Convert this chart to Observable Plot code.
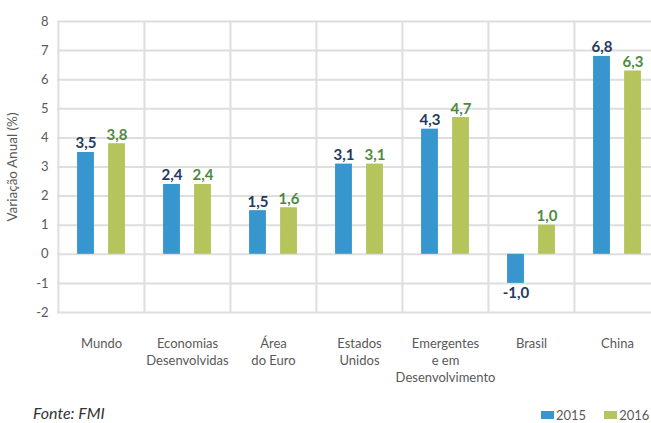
<!DOCTYPE html>
<html>
<head>
<meta charset="utf-8">
<script src="https://cdn.jsdelivr.net/npm/d3@7"></script>
<script src="https://cdn.jsdelivr.net/npm/@observablehq/plot@0.6"></script>
<style>
  html, body { margin: 0; padding: 0; background: #fff; }
  #wrap { position: relative; width: 651px; height: 423px; overflow: hidden; font-family: Lato, "Open Sans", sans-serif; }
  #footer { position: absolute; left: 33px; top: 403px; font-size: 16px; font-style: italic; color: #333; }
  #legend { position: absolute; left: 541px; top: 407px; font-size: 13px; color: #595959; display: flex; align-items: center; white-space: nowrap; }
  .sw { display: inline-block; width: 13px; height: 8px; margin-right: 2px; }
  .item { display: flex; align-items: center; margin-right: 18px; }
</style>
</head>
<body>
<div id="wrap">
  <div id="chart"></div>
  <div id="footer">Fonte: FMI</div>
  <div id="legend"></div>
</div>
<script>
const categories = ["Mundo", "Economias\nDesenvolvidas", "Área\ndo Euro", "Estados\nUnidos", "Emergentes\ne em\nDesenvolvimento", "Brasil", "China"];
const series = ["2015", "2016"];
const values2015 = [3.5, 2.4, 1.5, 3.1, 4.3, -1.0, 6.8];
const values2016 = [3.8, 2.4, 1.6, 3.1, 4.7, 1.0, 6.3];
const yTicks = [-2, -1, 0, 1, 2, 3, 4, 5, 6, 7, 8];
const colors = {"2015": "#3796cd", "2016": "#b5c55b"};
const labelColors = {"2015": "#243a5e", "2016": "#4e8a3e"};

const rows2015 = categories.map((c, i) => ({cat: c, year: "2015", v: values2015[i]}));
const rows2016 = categories.map((c, i) => ({cat: c, year: "2016", v: values2016[i]}));
const fmt = v => v.toFixed(1).replace(".", ",");

const xRange = [57, 660];
const band = (xRange[1] - xRange[0]) / categories.length;
const off = band * 0.18;
const half = 8.5;

const grid = "#dedede";

function labels(rows, year, dx) {
  return [
    Plot.text(rows.filter(d => d.v >= 0), {x: "cat", y: "v", text: d => fmt(d.v), dx, fill: labelColors[year], fontWeight: "bold", fontSize: 15, lineAnchor: "bottom", dy: -4}),
    Plot.text(rows.filter(d => d.v < 0), {x: "cat", y: "v", text: d => fmt(d.v), dx, fill: labelColors[year], fontWeight: "bold", fontSize: 15, lineAnchor: "top", dy: 4})
  ];
}

const chart = Plot.plot({
  width: 651,
  height: 423,
  marginTop: 21,
  marginBottom: 111,
  marginLeft: 57,
  marginRight: 0,
  style: {fontFamily: "Lato, 'Open Sans', sans-serif", background: "transparent"},
  x: {domain: categories, range: xRange, padding: 0, axis: null},
  y: {domain: [-2, 8], axis: null},
  marks: [
    Plot.ruleY(yTicks, {stroke: grid, strokeWidth: 2}),
    Plot.ruleX(categories, {x: d => d, dx: -band / 2, stroke: grid, strokeWidth: 2, y1: -2, y2: 8}),
    Plot.barY(rows2015, {x: "cat", y: "v", fill: colors["2015"], insetLeft: band / 2 - off - half, insetRight: band / 2 + off - half}),
    Plot.barY(rows2016, {x: "cat", y: "v", fill: colors["2016"], insetLeft: band / 2 + off - half, insetRight: band / 2 - off - half}),
    ...labels(rows2015, "2015", -off),
    ...labels(rows2016, "2016", off),
    Plot.text(yTicks, {frameAnchor: "left", y: d => d, text: d => String(d), textAnchor: "end", dx: -9, fill: "#595959", fontSize: 13}),
    Plot.text(categories, {x: d => d, y: () => -2, text: d => d, lineAnchor: "top", dy: 23, lineHeight: 1.33, fill: "#595959", fontSize: 13}),
    Plot.text(["Variação Anual (%)"], {frameAnchor: "left", dx: -45, rotate: -90, textAnchor: "middle", text: d => d, fill: "#595959", fontSize: 13.5})
  ]
});

document.getElementById("chart").appendChild(chart);

const legend = document.getElementById("legend");
series.forEach(s => {
  const it = document.createElement("div");
  it.className = "item";
  it.innerHTML = `<span class="sw" style="background:${colors[s]}"></span><span>${s}</span>`;
  legend.appendChild(it);
});
</script>
</body>
</html>
